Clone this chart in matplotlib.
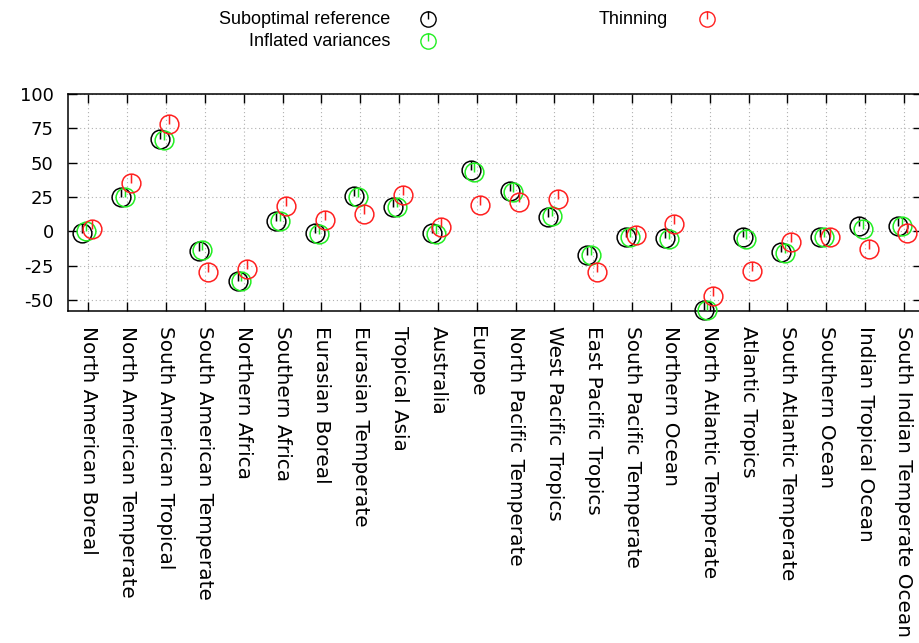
import matplotlib
matplotlib.use('Agg')
import matplotlib.pyplot as plt
from matplotlib.path import Path
from matplotlib.lines import Line2D
from matplotlib import font_manager
import numpy as np

categories = [
    "North American Boreal", "North American Temperate", "South American Tropical",
    "South American Temperate", "Northern Africa", "Southern Africa", "Eurasian Boreal",
    "Eurasian Temperate", "Tropical Asia", "Australia", "Europe", "North Pacific Temperate",
    "West Pacific Tropics", "East Pacific Tropics", "South Pacific Temperate",
    "Northern Ocean", "North Atlantic Temperate", "Atlantic Tropics",
    "South Atlantic Temperate", "Southern Ocean", "Indian Tropical Ocean",
    "South Indian Temperate Ocean",
]
suboptimal = [-1, 25, 67.5, -14.5, -36, 7.5, -1.5, 26, 18, -1.5, 44.5, 29.5,
              10.5, -17.5, -4, -5, -57.5, -4, -15, -4.5, 3.5, 4]
inflated = [0, 25, 66.5, -13.5, -36.5, 7.5, -2, 25, 17.5, -2, 43, 28.5,
            11, -17.5, -4.5, -5.5, -57.5, -5.5, -15.5, -4.5, 1.5, 3.5]
thinning = [2, 35.5, 78, -30, -27.5, 18.5, 8.5, 12.5, 26.5, 3, 19, 21,
            23.5, -30, -3, 5, -47, -29, -8, -4, -13, -1.5]
series_names = ["Suboptimal reference", "Inflated variances", "Thinning"]
yticks = [-50, -25, 0, 25, 50, 75, 100]

colors = ["#000000", "#22ee22", "#ff2020"]
offsets = [-0.155, -0.06, 0.09]

# marker: open circle with a stick from the centre to the top
mpath = Path.make_compound_path(
    Path.unit_circle(),
    Path([[0, 0], [0, 1]], [Path.MOVETO, Path.LINETO]))

W, H = 920, 643
fig = plt.figure(figsize=(W / 100, H / 100), dpi=100)
left_px, right_px, top_px, bot_px = 68.3, 921.8, 94.0, 310.5
ax = fig.add_axes([left_px / W, 1 - bot_px / H, (right_px - left_px) / W, (bot_px - top_px) / H])

x = np.arange(len(categories))
for vals, off, col in zip([suboptimal, inflated, thinning], offsets, colors):
    ax.plot(x + off, vals, linestyle='none', marker=mpath, markersize=13.5,
            markerfacecolor='none', markeredgecolor=col, markeredgewidth=1.1,
            clip_on=False, zorder=3)

ax.set_xlim(-0.515, 21.46)
ax.set_ylim(-57.7, 100)
ax.set_yticks(yticks)
ax.set_yticklabels([str(v) for v in yticks], fontsize=13, family='DejaVu Sans')
ax.set_xticks(x)
ax.set_xticklabels(categories, rotation=270, ha='center', va='top',
                   fontsize=14.4, family='DejaVu Sans')
ax.tick_params(direction='in', length=6.5, width=1.0, top=True, right=True, color='black')
ax.tick_params(axis='y', pad=10.5)
ax.tick_params(axis='x', pad=11)
ax.grid(True, linestyle=(0, (1, 2.5)), color='#b0b0b0', linewidth=0.8)
ax.set_axisbelow(True)
for sp in ax.spines.values():
    sp.set_linewidth(1.1)
    sp.set_color('black')

# legend (gnuplot style key)
names = {f.name for f in font_manager.fontManager.ttflist}
if 'Liberation Sans Narrow' in names:
    lfam, lsize = 'Liberation Sans Narrow', 14.5
else:
    lfam, lsize = 'Liberation Sans', 13

entries = [(390, 19, 428, series_names[0], colors[0]),
           (390, 41, 428, series_names[1], colors[1]),
           (668, 19, 707, series_names[2], colors[2])]
for tx, ty, mx, label, col in entries:
    fig.text(tx / W, 1 - ty / H, label, ha='right', va='center', fontsize=lsize, family=lfam)
    fig.add_artist(Line2D([mx / W], [1 - ty / H], transform=fig.transFigure,
                          linestyle='none', marker=mpath, markersize=11,
                          markerfacecolor='none', markeredgecolor=col, markeredgewidth=1.0))

fig.savefig('out.png', dpi=100)
